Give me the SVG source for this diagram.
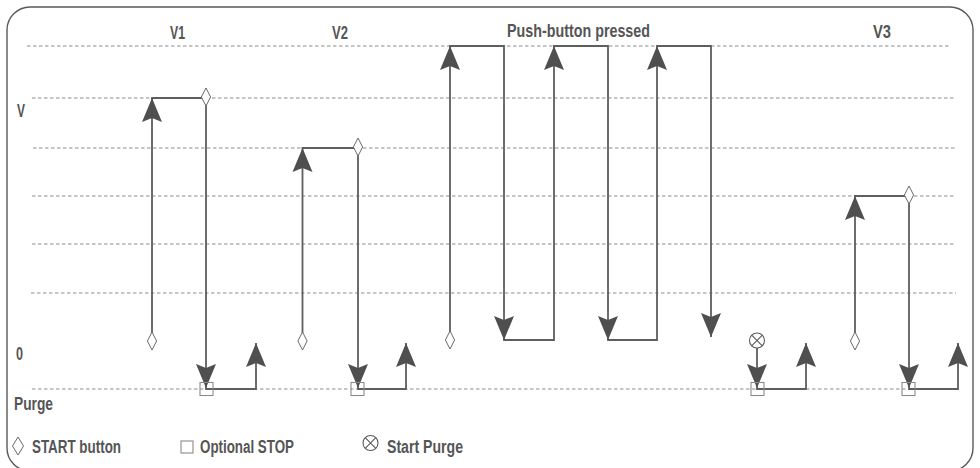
<svg xmlns="http://www.w3.org/2000/svg" xmlns:xlink="http://www.w3.org/1999/xlink" width="980" height="468" viewBox="0 0 980 468">
  <style>
    .frame { fill: #ffffff; stroke: #5a5a5a; stroke-width: 1.4; }
    .grid { fill: none; stroke: #8c8c8c; stroke-width: 1; stroke-dasharray: 3.5 2.5; }
    .sig { fill: none; stroke: #5e5e5e; stroke-width: 1.8; stroke-linejoin: miter; }
    .head { fill: #4f4f4f; stroke: none; }
    .start { fill: #ffffff; stroke: #6a6a6a; stroke-width: 1; }
    .stop { fill: none; stroke: #8a8a8a; stroke-width: 1.1; }
    .purge { fill: #ffffff; stroke: #5a5a5a; stroke-width: 1.1; }
    .lbl { font-family: "Liberation Sans", Arial, sans-serif; font-weight: bold; font-size: 18px; fill: #555555; }
  </style>
  <defs>
    <!-- arrowhead, tip at origin pointing up -->
    <path id="up" class="head" d="M0,0 L10,24 L0,20 L-10,24 Z"/>
    <path id="down" class="head" d="M0,0 L10,-24 L0,-20 L-10,-24 Z"/>
    <path id="dia" class="start" d="M0,-9 L4.6,0 L0,9 L-4.6,0 Z"/>
    <rect id="sq" class="stop" x="-6.5" y="-6.5" width="13" height="13"/>
    <g id="px">
      <circle class="purge" r="7.5"/>
      <path d="M-5.3,-5.3 L5.3,5.3 M5.3,-5.3 L-5.3,5.3" fill="none" stroke="#5a5a5a" stroke-width="1.1"/>
    </g>
  </defs>

  <rect class="frame" x="7" y="7" width="966" height="464" rx="23" ry="23"/>

  <!-- level grid -->
  <g id="grid">
    <line class="grid" x1="27" y1="46" x2="951" y2="46"/>
    <line class="grid" x1="32" y1="98" x2="955" y2="98"/>
    <line class="grid" x1="33" y1="148" x2="955" y2="148"/>
    <line class="grid" x1="32" y1="196" x2="956" y2="196"/>
    <line class="grid" x1="32" y1="244" x2="956" y2="244"/>
    <line class="grid" x1="31" y1="293" x2="956" y2="293"/>
    <line class="grid" x1="32" y1="389" x2="956" y2="389"/>
  </g>

  <!-- axis and column labels -->
  <g id="labels">
    <text class="lbl" x="170" y="39" textLength="15" lengthAdjust="spacingAndGlyphs">V1</text>
    <text class="lbl" x="332" y="39" textLength="16" lengthAdjust="spacingAndGlyphs">V2</text>
    <text class="lbl" x="507" y="37" textLength="143" lengthAdjust="spacingAndGlyphs">Push-button  pressed</text>
    <text class="lbl" x="873" y="38" textLength="18" lengthAdjust="spacingAndGlyphs">V3</text>
    <text class="lbl" x="17" y="117" textLength="8" lengthAdjust="spacingAndGlyphs">V</text>
    <text class="lbl" x="16" y="360" textLength="7" lengthAdjust="spacingAndGlyphs">0</text>
    <text class="lbl" x="14" y="410" textLength="39" lengthAdjust="spacingAndGlyphs">Purge</text>
  </g>

  <!-- signal traces -->
  <g id="connectors">
    <path class="sig" d="M152,333 V98 H206 V389 H256 V343"/>
    <path class="sig" d="M302.5,333 V148 H358 V389 H406 V343"/>
    <path class="sig" d="M450,332 V46 H504 V340 H554 V46 H608 V340 H657 V46 H711 V337"/>
    <path class="sig" d="M757,348 V389 H806 V343"/>
    <path class="sig" d="M855,333 V196 H909 V389 H958 V343"/>

    <use xlink:href="#up" x="152" y="98"/>
    <use xlink:href="#down" x="206" y="388"/>
    <use xlink:href="#up" x="256" y="343"/>

    <use xlink:href="#up" x="302.5" y="148"/>
    <use xlink:href="#down" x="358" y="388"/>
    <use xlink:href="#up" x="406" y="343"/>

    <use xlink:href="#up" x="450" y="46"/>
    <use xlink:href="#down" x="504" y="340"/>
    <use xlink:href="#up" x="554" y="46"/>
    <use xlink:href="#down" x="608" y="340"/>
    <use xlink:href="#up" x="657" y="46"/>
    <use xlink:href="#down" x="711" y="337"/>

    <use xlink:href="#down" x="757" y="388"/>
    <use xlink:href="#up" x="806" y="343"/>

    <use xlink:href="#up" x="855" y="196"/>
    <use xlink:href="#down" x="909" y="388"/>
    <use xlink:href="#up" x="958" y="343"/>
  </g>

  <!-- switching events -->
  <g id="v1">
    <use xlink:href="#dia" x="152" y="341"/>
    <use xlink:href="#dia" x="206" y="97"/>
    <use xlink:href="#sq" x="206.5" y="389"/>
  </g>
  <g id="v2">
    <use xlink:href="#dia" x="302.5" y="341"/>
    <use xlink:href="#dia" x="358" y="147"/>
    <use xlink:href="#sq" x="357.5" y="389"/>
  </g>
  <g id="push">
    <use xlink:href="#dia" x="450" y="340"/>
  </g>
  <g id="purge-run">
    <use xlink:href="#px" x="757" y="340.5"/>
    <use xlink:href="#sq" x="757.5" y="389"/>
  </g>
  <g id="v3">
    <use xlink:href="#dia" x="855" y="341"/>
    <use xlink:href="#dia" x="909" y="195"/>
    <use xlink:href="#sq" x="908.5" y="389"/>
  </g>

  <!-- legend -->
  <g id="legend-start">
    <path class="start" d="M18,437 L23.5,446 L18,455 L12.5,446 Z"/>
    <text class="lbl" x="32" y="453" textLength="89" lengthAdjust="spacingAndGlyphs">START button</text>
  </g>
  <g id="legend-stop">
    <rect class="stop" x="181" y="441" width="12" height="12" stroke="#666"/>
    <text class="lbl" x="200" y="453" textLength="94" lengthAdjust="spacingAndGlyphs">Optional STOP</text>
  </g>
  <g id="legend-purge">
    <use xlink:href="#px" x="370.5" y="443"/>
    <text class="lbl" x="387" y="453" textLength="76" lengthAdjust="spacingAndGlyphs">Start Purge</text>
  </g>
</svg>
